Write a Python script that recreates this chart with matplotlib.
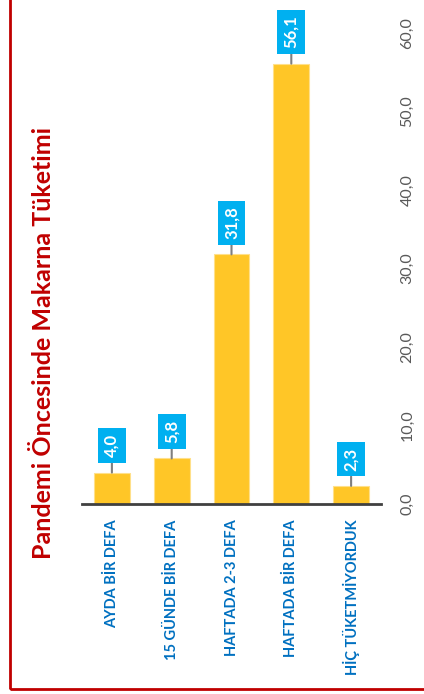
import matplotlib.pyplot as plt
from matplotlib.patches import Rectangle

plt.rcParams['font.family'] = ['Lato', 'DejaVu Sans']

categories = ["AYDA BİR DEFA", "15 GÜNDE BİR DEFA", "HAFTADA 2-3 DEFA",
              "HAFTADA BİR DEFA", "HİÇ TÜKETMİYORDUK"]
values = [4.0, 5.8, 31.8, 56.1, 2.3]
title = "Pandemi Öncesinde Makarna Tüketimi"
yticks = [0, 10, 20, 30, 40, 50, 60]

fig = plt.figure(figsize=(4.24, 6.94), dpi=100)
ax = fig.add_axes([0.1934, 0.2738, 0.7052, 0.6786])

x = range(len(categories))
ax.bar(x, values, width=0.6, color='#FFC627', edgecolor='#FFE08A', linewidth=0.8, zorder=2)
ax.set_xlim(-0.5, len(categories) - 0.5)
ax.set_ylim(0, 60)

for s in ['top', 'left', 'right']:
    ax.spines[s].set_visible(False)
ax.spines['bottom'].set_color('#404040')
ax.spines['bottom'].set_linewidth(2)

ax.yaxis.tick_right()
ax.set_yticks(yticks)
ax.set_yticklabels([f"{t:.1f}".replace('.', ',') for t in yticks],
                   rotation=90, va='center', color='#595959', fontsize=11.5)
ax.tick_params(axis='y', length=0, pad=14)

ax.set_xticks(list(x))
ax.set_xticklabels(categories, rotation=90, va='top', ha='center',
                   color='#0070C0', fontsize=10.5, fontweight='bold')
ax.tick_params(axis='x', length=0, pad=11)

for i, v in zip(x, values):
    ax.annotate(f"{v:.1f}".replace('.', ','), xy=(i, v), xytext=(0, 11),
                textcoords='offset points', ha='center', va='bottom',
                rotation=90, color='white', fontsize=12, fontweight='bold',
                bbox=dict(boxstyle='square,pad=0.35', fc='#00B0F0', ec='none'),
                arrowprops=dict(arrowstyle='-', color='#7F7F7F', lw=1.5,
                                shrinkA=0, shrinkB=0),
                zorder=3)

fig.text(0.102, 0.506, title, rotation=90, ha='center', va='center',
         color='#C00000', fontsize=18, fontweight='bold')

fig.patches.append(Rectangle((10 / 424, 5 / 694), 1.0, 1.0, transform=fig.transFigure,
                             fill=False, edgecolor='#C00000', linewidth=2))

fig.savefig('out.png', dpi=100)
